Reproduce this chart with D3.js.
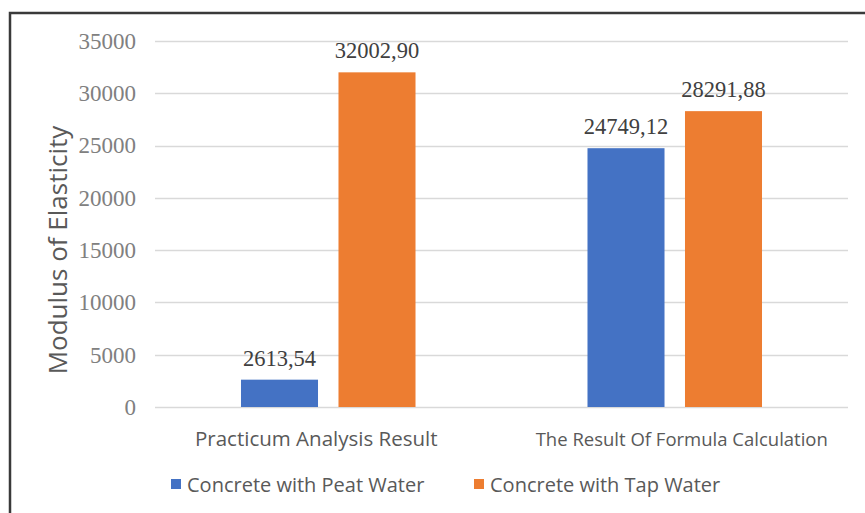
<!DOCTYPE html>
<html>
<head>
<meta charset="utf-8">
<script src="https://cdn.jsdelivr.net/npm/d3@7/dist/d3.min.js"></script>
<style>
  html, body { margin: 0; padding: 0; background: #fff; }
  svg { display: block; }
</style>
</head>
<body>
<svg id="chart" width="865" height="513"></svg>
<script>
// Modulus of elasticity: concrete mixed with peat water vs tap water
const categories = ["Practicum Analysis Result", "The Result Of Formula Calculation"];
const seriesNames = ["Concrete with Peat Water", "Concrete with Tap Water"];
const peatWater = [2613.54, 24749.12];
const tapWater = [32002.90, 28291.88];
const yTicks = [0, 5000, 10000, 15000, 20000, 25000, 30000, 35000];
const seriesColors = ["#4472C4", "#ED7D31"];

const svg = d3.select("#chart");
const margin = { left: 155, right: 17, top: 41, bottom: 106 };
const W = 865, H = 513;

// chart frame (runs past the right and bottom edges)
svg.append("rect")
  .attr("x", 10).attr("y", 13)
  .attr("width", 900).attr("height", 600)
  .attr("fill", "#fff").attr("stroke", "#3a3a3a").attr("stroke-width", 2.5);

const x0 = d3.scaleBand()
  .domain(categories)
  .range([margin.left, W - margin.right]);

const x1 = d3.scaleBand()
  .domain(seriesNames)
  .range([0, x0.bandwidth()])
  .paddingInner(0.21)
  .paddingOuter(0.882);

const y = d3.scaleLinear()
  .domain([0, 35000])
  .range([H - margin.bottom, margin.top]);

// horizontal gridlines
svg.append("g")
  .selectAll("line")
  .data(yTicks)
  .join("line")
  .attr("x1", margin.left).attr("x2", W - margin.right)
  .attr("y1", d => Math.round(y(d)) + 0.5).attr("y2", d => Math.round(y(d)) + 0.5)
  .attr("stroke", "#d9d9d9").attr("stroke-width", 1.3);

// y axis tick labels
const yAxis = d3.axisLeft(y).tickValues(yTicks).tickSize(0).tickPadding(0).tickFormat(d3.format("d"));
const gy = svg.append("g")
  .attr("transform", `translate(${margin.left - 19},0)`)
  .call(yAxis);
gy.select(".domain").remove();
gy.selectAll("text")
  .attr("font-family", "'Liberation Serif', serif")
  .attr("font-size", 23)
  .attr("fill", "#808080");

// y axis title
svg.append("text")
  .attr("transform", `translate(67, ${y(17500) + 26}) rotate(-90)`)
  .attr("text-anchor", "middle")
  .attr("font-family", "'Open Sans', sans-serif")
  .attr("font-size", 26)
  .attr("fill", "#595959")
  .text("Modulus of Elasticity");

// bars
const rows = categories.map((c, i) => ({
  category: c,
  values: [
    { series: seriesNames[0], value: peatWater[i], color: seriesColors[0] },
    { series: seriesNames[1], value: tapWater[i], color: seriesColors[1] }
  ]
}));

const groups = svg.append("g")
  .selectAll("g")
  .data(rows)
  .join("g")
  .attr("transform", d => `translate(${x0(d.category)},0)`);

groups.selectAll("rect")
  .data(d => d.values)
  .join("rect")
  .attr("x", d => x1(d.series))
  .attr("width", x1.bandwidth())
  .attr("y", d => y(d.value))
  .attr("height", d => y(0) - y(d.value))
  .attr("fill", d => d.color);

// value labels with decimal comma
const fmt = v => v.toFixed(2).replace(".", ",");
groups.selectAll("text.value")
  .data(d => d.values)
  .join("text")
  .attr("class", "value")
  .attr("x", d => x1(d.series) + x1.bandwidth() / 2)
  .attr("y", d => y(d.value) - 14)
  .attr("text-anchor", "middle")
  .attr("font-family", "'Liberation Serif', serif")
  .attr("font-size", 22.5)
  .attr("fill", "#404040")
  .text(d => fmt(d.value));

// category labels
const catSizes = [20.5, 18.5];
const catShift = [-12, 7];
svg.append("g")
  .selectAll("text")
  .data(categories)
  .join("text")
  .attr("x", (d, i) => x0(d) + x0.bandwidth() / 2 + catShift[i])
  .attr("y", 446)
  .attr("text-anchor", "middle")
  .attr("font-family", "'Open Sans', sans-serif")
  .attr("font-size", (d, i) => catSizes[i])
  .attr("fill", "#595959")
  .text(d => d);

// legend
const legendX = [171, 474];
const legend = svg.append("g")
  .selectAll("g")
  .data(seriesNames)
  .join("g")
  .attr("transform", (d, i) => `translate(${legendX[i]}, 479)`);
legend.append("rect")
  .attr("width", 10).attr("height", 10)
  .attr("fill", (d, i) => seriesColors[i]);
legend.append("text")
  .attr("x", 16).attr("y", 13)
  .attr("font-family", "'Open Sans', sans-serif")
  .attr("font-size", 20)
  .attr("fill", "#595959")
  .text(d => d);
</script>
</body>
</html>
